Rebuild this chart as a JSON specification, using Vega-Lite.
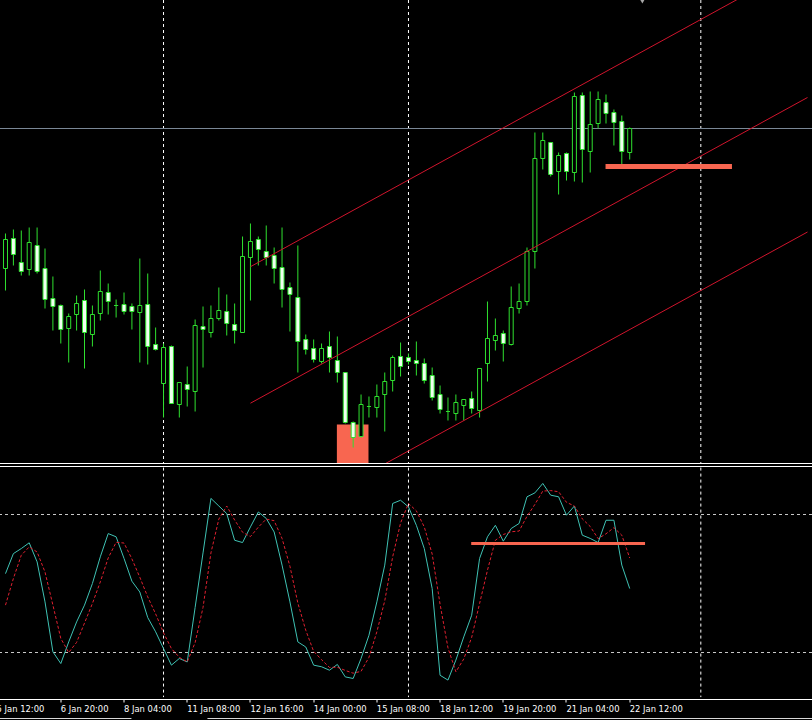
{
"$schema":"https://vega.github.io/schema/vega-lite/v6.json",
"width":812,"height":699.5,
"autosize":{"type":"none"},
"padding":{"left":0,"top":0,"right":0,"bottom":20.5},
"background":"#000000",
"config":{"view":{"stroke":null}},
"datasets":{
"candles":[
{"i":0,"o":1.0832,"h":1.0867,"l":1.0810,"c":1.0861},
{"i":1,"o":1.0862,"h":1.0871,"l":1.0835,"c":1.0846},
{"i":2,"o":1.0838,"h":1.0870,"l":1.0825,"c":1.0829},
{"i":3,"o":1.0831,"h":1.0873,"l":1.0825,"c":1.0858},
{"i":4,"o":1.0855,"h":1.0873,"l":1.0827,"c":1.0829},
{"i":5,"o":1.0832,"h":1.0852,"l":1.0792,"c":1.0801},
{"i":6,"o":1.0802,"h":1.0824,"l":1.0770,"c":1.0794},
{"i":7,"o":1.0795,"h":1.0796,"l":1.0757,"c":1.0771},
{"i":8,"o":1.0772,"h":1.0787,"l":1.0738,"c":1.0784},
{"i":9,"o":1.0786,"h":1.0805,"l":1.0770,"c":1.0797},
{"i":10,"o":1.0800,"h":1.0811,"l":1.0732,"c":1.0768},
{"i":11,"o":1.0766,"h":1.0795,"l":1.0754,"c":1.0786},
{"i":12,"o":1.0787,"h":1.0830,"l":1.0780,"c":1.0809},
{"i":13,"o":1.0808,"h":1.0817,"l":1.0786,"c":1.0799},
{"i":14,"o":1.0795,"h":1.0801,"l":1.0783,"c":1.0795},
{"i":15,"o":1.0796,"h":1.0808,"l":1.0786,"c":1.0789},
{"i":16,"o":1.0794,"h":1.0797,"l":1.0771,"c":1.0789},
{"i":17,"o":1.0788,"h":1.0842,"l":1.0738,"c":1.0795},
{"i":18,"o":1.0796,"h":1.0827,"l":1.0736,"c":1.0754},
{"i":19,"o":1.0756,"h":1.0773,"l":1.0750,"c":1.0751},
{"i":20,"o":1.0717,"h":1.0757,"l":1.0683,"c":1.0753},
{"i":21,"o":1.0754,"h":1.0755,"l":1.0697,"c":1.0697},
{"i":22,"o":1.0696,"h":1.0718,"l":1.0683,"c":1.0718},
{"i":23,"o":1.0716,"h":1.0734,"l":1.0694,"c":1.0711},
{"i":24,"o":1.0709,"h":1.0781,"l":1.0689,"c":1.0775},
{"i":25,"o":1.0774,"h":1.0794,"l":1.0733,"c":1.0771},
{"i":26,"o":1.0768,"h":1.0795,"l":1.0763,"c":1.0782},
{"i":27,"o":1.0782,"h":1.0813,"l":1.0780,"c":1.0790},
{"i":28,"o":1.0789,"h":1.0806,"l":1.0765,"c":1.0777},
{"i":29,"o":1.0776,"h":1.0797,"l":1.0757,"c":1.0770},
{"i":30,"o":1.0768,"h":1.0864,"l":1.0768,"c":1.0844},
{"i":31,"o":1.0843,"h":1.0877,"l":1.0800,"c":1.0859},
{"i":32,"o":1.0861,"h":1.0864,"l":1.0835,"c":1.0851},
{"i":33,"o":1.0849,"h":1.0875,"l":1.0835,"c":1.0843},
{"i":34,"o":1.0845,"h":1.0853,"l":1.0817,"c":1.0832},
{"i":35,"o":1.0833,"h":1.0873,"l":1.0793,"c":1.0811},
{"i":36,"o":1.0813,"h":1.0818,"l":1.0769,"c":1.0806},
{"i":37,"o":1.0803,"h":1.0855,"l":1.0728,"c":1.0759},
{"i":38,"o":1.0761,"h":1.0766,"l":1.0746,"c":1.0751},
{"i":39,"o":1.0752,"h":1.0761,"l":1.0738,"c":1.0741},
{"i":40,"o":1.0739,"h":1.0757,"l":1.0737,"c":1.0752},
{"i":41,"o":1.0754,"h":1.0769,"l":1.0728,"c":1.0743},
{"i":42,"o":1.0740,"h":1.0764,"l":1.0718,"c":1.0728},
{"i":43,"o":1.0728,"h":1.0728,"l":1.0677,"c":1.0678},
{"i":44,"o":1.0678,"h":1.0679,"l":1.0653,"c":1.0663},
{"i":45,"o":1.0664,"h":1.0706,"l":1.0663,"c":1.0696},
{"i":46,"o":1.0694,"h":1.0704,"l":1.0683,"c":1.0694},
{"i":47,"o":1.0693,"h":1.0716,"l":1.0683,"c":1.0704},
{"i":48,"o":1.0706,"h":1.0728,"l":1.0669,"c":1.0719},
{"i":49,"o":1.0720,"h":1.0745,"l":1.0709,"c":1.0743},
{"i":50,"o":1.0744,"h":1.0758,"l":1.0724,"c":1.0734},
{"i":51,"o":1.0743,"h":1.0747,"l":1.0736,"c":1.0739},
{"i":52,"o":1.0740,"h":1.0759,"l":1.0725,"c":1.0737},
{"i":53,"o":1.0737,"h":1.0742,"l":1.0717,"c":1.0720},
{"i":54,"o":1.0725,"h":1.0733,"l":1.0700,"c":1.0703},
{"i":55,"o":1.0706,"h":1.0715,"l":1.0687,"c":1.0691},
{"i":56,"o":1.0689,"h":1.0703,"l":1.0680,"c":1.0689},
{"i":57,"o":1.0687,"h":1.0706,"l":1.0680,"c":1.0698},
{"i":58,"o":1.0695,"h":1.0701,"l":1.0680,"c":1.0701},
{"i":59,"o":1.0702,"h":1.0709,"l":1.0687,"c":1.0692},
{"i":60,"o":1.0690,"h":1.0732,"l":1.0683,"c":1.0732},
{"i":61,"o":1.0737,"h":1.0799,"l":1.0719,"c":1.0762},
{"i":62,"o":1.0760,"h":1.0782,"l":1.0750,"c":1.0765},
{"i":63,"o":1.0767,"h":1.0770,"l":1.0739,"c":1.0757},
{"i":64,"o":1.0756,"h":1.0814,"l":1.0755,"c":1.0793},
{"i":65,"o":1.0792,"h":1.0817,"l":1.0787,"c":1.0799},
{"i":66,"o":1.0799,"h":1.0853,"l":1.0795,"c":1.0849},
{"i":67,"o":1.0849,"h":1.0968,"l":1.0832,"c":1.0942},
{"i":68,"o":1.0942,"h":1.0968,"l":1.0931,"c":1.0960},
{"i":69,"o":1.0958,"h":1.0958,"l":1.0924,"c":1.0926},
{"i":70,"o":1.0929,"h":1.0948,"l":1.0906,"c":1.0945},
{"i":71,"o":1.0947,"h":1.0948,"l":1.0920,"c":1.0929},
{"i":72,"o":1.0928,"h":1.1008,"l":1.0919,"c":1.1004},
{"i":73,"o":1.1005,"h":1.1008,"l":1.0918,"c":1.0951},
{"i":74,"o":1.0949,"h":1.1009,"l":1.0928,"c":1.0976},
{"i":75,"o":1.0977,"h":1.1009,"l":1.0972,"c":1.1001},
{"i":76,"o":1.0998,"h":1.1006,"l":1.0977,"c":1.0987},
{"i":77,"o":1.0988,"h":1.0991,"l":1.0955,"c":1.0978},
{"i":78,"o":1.0979,"h":1.0985,"l":1.0935,"c":1.0949},
{"i":79,"o":1.0948,"h":1.0973,"l":1.0941,"c":1.0972}
],
"stoch":[
{"i":0,"k":54.3,"d":40.6},{"i":1,"k":63.0,"d":52.2},{"i":2,"k":65.2,"d":62.3},{"i":3,"k":67.7,"d":65.9},
{"i":4,"k":59.4,"d":63.7},{"i":5,"k":42.0,"d":55.0},{"i":6,"k":20.3,"d":40.6},{"i":7,"k":15.2,"d":26.1},
{"i":8,"k":24.6,"d":20.0},{"i":9,"k":33.3,"d":24.4},{"i":10,"k":40.6,"d":32.8},{"i":11,"k":50.0,"d":41.3},
{"i":12,"k":61.6,"d":50.7},{"i":13,"k":71.7,"d":61.1},{"i":14,"k":70.3,"d":67.9},{"i":15,"k":60.9,"d":67.6},
{"i":16,"k":51.0,"d":60.7},{"i":17,"k":46.3,"d":52.7},{"i":18,"k":35.2,"d":44.2},{"i":19,"k":29.0,"d":36.8},
{"i":20,"k":21.7,"d":28.6},{"i":21,"k":14.5,"d":21.7},{"i":22,"k":17.4,"d":17.9},{"i":23,"k":15.9,"d":15.9},
{"i":24,"k":39.6,"d":24.3},{"i":25,"k":63.3,"d":39.6},{"i":26,"k":87.0,"d":63.3},{"i":27,"k":83.7,"d":78.0},
{"i":28,"k":80.4,"d":83.7},{"i":29,"k":68.8,"d":77.6},{"i":30,"k":67.8,"d":72.3},{"i":31,"k":74.6,"d":70.4},
{"i":32,"k":81.1,"d":74.5},{"i":33,"k":78.3,"d":78.0},{"i":34,"k":72.4,"d":77.3},{"i":35,"k":58.0,"d":69.6},
{"i":36,"k":42.0,"d":57.5},{"i":37,"k":24.6,"d":41.5},{"i":38,"k":22.4,"d":29.7},{"i":39,"k":14.5,"d":20.5},
{"i":40,"k":13.8,"d":16.9},{"i":41,"k":12.3,"d":13.5},{"i":42,"k":14.8,"d":13.6},{"i":43,"k":9.4,"d":12.2},
{"i":44,"k":8.7,"d":11.0},{"i":45,"k":17.4,"d":11.8},{"i":46,"k":27.5,"d":17.9},{"i":47,"k":42.0,"d":29.0},
{"i":48,"k":58.0,"d":42.5},{"i":49,"k":84.8,"d":61.6},{"i":50,"k":86.2,"d":76.3},{"i":51,"k":83.3,"d":84.8},
{"i":52,"k":75.3,"d":81.6},{"i":53,"k":65.2,"d":74.6},{"i":54,"k":47.8,"d":62.8},{"i":55,"k":10.1,"d":41.0},
{"i":56,"k":8.0,"d":22.0},{"i":57,"k":16.7,"d":11.6},{"i":58,"k":26.8,"d":17.2},{"i":59,"k":36.2,"d":26.6},
{"i":60,"k":60.9,"d":41.3},{"i":61,"k":70.3,"d":55.8},{"i":62,"k":75.3,"d":68.8},{"i":63,"k":68.4,"d":71.3},
{"i":64,"k":73.9,"d":72.5},{"i":65,"k":76.1,"d":72.8},{"i":66,"k":87.7,"d":79.2},{"i":67,"k":89.4,"d":84.4},
{"i":68,"k":93.5,"d":90.2},{"i":69,"k":88.4,"d":90.4},{"i":70,"k":87.7,"d":89.9},{"i":71,"k":79.7,"d":85.3},
{"i":72,"k":83.7,"d":83.7},{"i":73,"k":71.0,"d":78.1},{"i":74,"k":69.6,"d":74.8},{"i":75,"k":67.8,"d":69.5},
{"i":76,"k":77.5,"d":71.6},{"i":77,"k":77.5,"d":74.3},{"i":78,"k":58.0,"d":71.0},{"i":79,"k":47.8,"d":61.1}
],
"vgrid":[{"i":20},{"i":51},{"i":88}]
},
"layer":[
{"layer":[
{"data":{"values":[{"i":41.94,"i2":45.94,"p":1.0676,"p2":1.0637}]},
 "mark":{"type":"rect","color":"#F86650"},
 "encoding":{"x":{"field":"i","type":"quantitative","scale":{"domain":[-0.0625,101.4375],"nice":false,"zero":false},
   "axis":{"values":[7,15,23,31,39,47,55,63,71,79],
    "labelExpr":"['6 Jan 20:00','8 Jan 04:00','11 Jan 08:00','12 Jan 16:00','14 Jan 00:00','15 Jan 08:00','18 Jan 12:00','19 Jan 20:00','21 Jan 04:00','22 Jan 12:00'][(datum.value-7)/8]",
    "title":null,"grid":false,"translate":0,"domainColor":"#FFFFFF","domainWidth":1,"tickColor":"#FFFFFF","tickWidth":1,"tickSize":3,
    "labelColor":"#FFFFFF","labelFont":"DejaVu Sans","labelFontSize":8.4,"labelAlign":"left","labelBaseline":"top","labelPadding":2,"labelDx":-1,
    "labelOverlap":false,"labelBound":false,"labelFlush":false}},
  "x2":{"field":"i2"},
  "y":{"field":"p","type":"quantitative","scale":{"domain":[1.0401,1.11005],"nice":false,"zero":false},"axis":null},"y2":{"field":"p2"}}},
{"data":{"name":"vgrid"},
 "mark":{"type":"rule","color":"#FFFFFF","strokeDash":[3,3],"strokeWidth":1},
 "encoding":{"x":{"field":"i","type":"quantitative"},
  "y":{"datum":1.11005,"type":"quantitative","scale":{"domain":[1.0401,1.11005],"nice":false,"zero":false},"axis":null},"y2":{"datum":1.0637}}},
{"data":{"values":[{"p":1.0972}]},
 "mark":{"type":"rule","color":"#7A8796","strokeWidth":1},
 "encoding":{"y":{"field":"p","type":"quantitative","scale":{"domain":[1.0401,1.11005],"nice":false,"zero":false},"axis":null}}},
{"data":{"name":"candles"},
 "mark":{"type":"rule","color":"#2FE02F","strokeWidth":1},
 "encoding":{"x":{"field":"i","type":"quantitative"},
  "y":{"field":"l","type":"quantitative","scale":{"domain":[1.0401,1.11005],"nice":false,"zero":false},"axis":null},"y2":{"field":"h"}}},
{"data":{"name":"candles"},
 "mark":{"type":"bar","width":4,"stroke":"#2FE02F","strokeWidth":1},
 "encoding":{"x":{"field":"i","type":"quantitative"},
  "y":{"field":"o","type":"quantitative","scale":{"domain":[1.0401,1.11005],"nice":false,"zero":false},"axis":null},"y2":{"field":"c"},
  "fill":{"condition":{"test":"datum.c < datum.o","value":"#F0FFF0"},"value":"#000000"}}},
{"data":{"values":[
  {"i":31,"i2":101.5,"p":1.08338,"p2":1.11396},
  {"i":31,"i2":101.5,"p":1.06973,"p2":1.1003},
  {"i":48.1,"i2":101.5,"p":1.0637,"p2":1.08685}]},
 "mark":{"type":"rule","color":"#D0142C","strokeWidth":1,"clip":true},
 "encoding":{"x":{"field":"i","type":"quantitative"},"x2":{"field":"i2"},
  "y":{"field":"p","type":"quantitative","scale":{"domain":[1.0401,1.11005],"nice":false,"zero":false},"axis":null},"y2":{"field":"p2"}}},
{"data":{"values":[{"i":75.94,"i2":91.94,"p":1.0934}]},
 "mark":{"type":"rule","color":"#F86650","strokeWidth":5},
 "encoding":{"x":{"field":"i","type":"quantitative"},"x2":{"field":"i2"},
  "y":{"field":"p","type":"quantitative","scale":{"domain":[1.0401,1.11005],"nice":false,"zero":false},"axis":null}}},
{"data":{"values":[{"p":1.0637},{"p":1.0634}]},
 "mark":{"type":"rule","color":"#FFFFFF","strokeWidth":1},
 "encoding":{"y":{"field":"p","type":"quantitative","scale":{"domain":[1.0401,1.11005],"nice":false,"zero":false},"axis":null}}},
{"data":{"values":[{"i":80.6,"p":1.1099}]},
 "mark":{"type":"point","shape":"triangle-down","filled":true,"size":22,"color":"#A8A8A8","opacity":1},
 "encoding":{"x":{"field":"i","type":"quantitative"},
  "y":{"field":"p","type":"quantitative","scale":{"domain":[1.0401,1.11005],"nice":false,"zero":false},"axis":null}}}
]},
{"layer":[
{"data":{"name":"vgrid"},
 "mark":{"type":"rule","color":"#FFFFFF","strokeDash":[3,3],"strokeWidth":1},
 "encoding":{"x":{"field":"i","type":"quantitative"},
  "y":{"datum":100.4,"type":"quantitative","scale":{"domain":[-0.4348,303.696],"nice":false,"zero":false},"axis":null},"y2":{"datum":0.6}}},
{"data":{"values":[{"v":80},{"v":20}]},
 "mark":{"type":"rule","color":"#C8C8C8","strokeDash":[3,3],"strokeWidth":1},
 "encoding":{"y":{"field":"v","type":"quantitative","scale":{"domain":[-0.4348,303.696],"nice":false,"zero":false},"axis":null}}},
{"data":{"name":"stoch"},
 "mark":{"type":"line","color":"#3FC2B4","strokeWidth":1},
 "encoding":{"x":{"field":"i","type":"quantitative"},
  "y":{"field":"k","type":"quantitative","scale":{"domain":[-0.4348,303.696],"nice":false,"zero":false},"axis":null}}},
{"data":{"name":"stoch"},
 "mark":{"type":"line","color":"#E02030","strokeWidth":1,"strokeDash":[3,2]},
 "encoding":{"x":{"field":"i","type":"quantitative"},
  "y":{"field":"d","type":"quantitative","scale":{"domain":[-0.4348,303.696],"nice":false,"zero":false},"axis":null}}},
{"data":{"values":[{"i":58.94,"i2":80.94,"v":67.4}]},
 "mark":{"type":"rule","color":"#F86650","strokeWidth":3},
 "encoding":{"x":{"field":"i","type":"quantitative"},"x2":{"field":"i2"},
  "y":{"field":"v","type":"quantitative","scale":{"domain":[-0.4348,303.696],"nice":false,"zero":false},"axis":null}}},
{"data":{"values":[{"i":-1,"label":"5 Jan 12:00"}]},
 "mark":{"type":"text","color":"#FFFFFF","font":"DejaVu Sans","fontSize":8.4,"align":"left","baseline":"top","dx":-1},
 "encoding":{"x":{"field":"i","type":"quantitative"},
  "y":{"datum":-2.609,"type":"quantitative","scale":{"domain":[-0.4348,303.696],"nice":false,"zero":false},"axis":null},
  "text":{"field":"label"}}},
{"data":{"values":[{"i":-2,"i2":15.94,"v":-8.7},{"i":25.56,"i2":103,"v":-8.7}]},
 "mark":{"type":"rule","color":"#D8D8D8","strokeWidth":1},
 "encoding":{"x":{"field":"i","type":"quantitative"},"x2":{"field":"i2"},
  "y":{"field":"v","type":"quantitative","scale":{"domain":[-0.4348,303.696],"nice":false,"zero":false},"axis":null}}}
]}
],
"resolve":{"scale":{"y":"independent"}}
}
